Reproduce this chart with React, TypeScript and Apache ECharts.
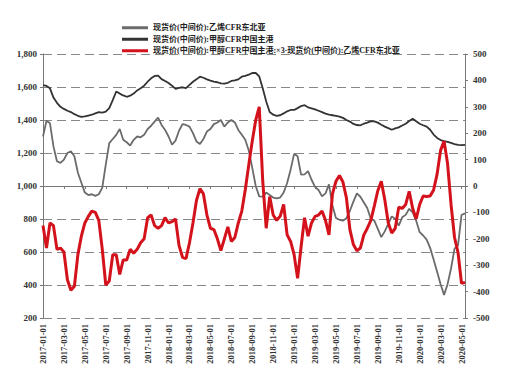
import React, { useEffect, useRef } from "react";
import * as echarts from "echarts";

// Categories: 1st, 11th, 21st of each month, 2017-01-01 .. 2020-05-11
const categories: string[] = [];
for (let y = 2017; y <= 2020; y++) {
  for (let m = 1; m <= 12; m++) {
    for (const d of [1, 11, 21]) {
      if (y === 2020 && (m > 5 || (m === 5 && d > 11))) continue;
      categories.push(`${y}-${String(m).padStart(2, "0")}-${String(d).padStart(2, "0")}`);
    }
  }
}

const seriesNames = [
  "现货价(中间价):乙烯CFR东北亚",
  "现货价(中间价):甲醇CFR中国主港",
  "现货价(中间价):甲醇CFR中国主港:×3-现货价(中间价):乙烯CFR东北亚",
];

// Ethylene CFR NE Asia (left axis)
const ethylene = [
  1300, 1395, 1380, 1240, 1150, 1140, 1160, 1200, 1210, 1180, 1080, 1020,
  960, 945, 950, 940, 950, 990, 1130, 1260, 1285, 1310, 1345, 1280,
  1265, 1245, 1280, 1300, 1295, 1310, 1345, 1365, 1390, 1415, 1370, 1340,
  1300, 1250, 1275, 1335, 1375, 1370, 1360, 1320, 1270, 1255, 1285, 1330,
  1345, 1375, 1385, 1400, 1360, 1385, 1400, 1385, 1340, 1310, 1280, 1215,
  1110, 1000, 937, 935, 960, 945, 930, 925, 930, 960, 1018, 1099,
  1195, 1180, 1069, 1070, 1090, 1038, 995, 976, 937, 955, 1010, 880,
  806, 795, 790, 805, 850, 905, 955, 935, 900, 865, 800, 790,
  740, 690, 725, 770, 816, 800, 760, 810, 825, 862, 840, 790,
  720, 700, 675, 625, 555, 480, 405, 340, 405, 500, 620, 640,
  824, 834,
];

// Methanol CFR China main port (right axis)
const methanol = [
  382, 379, 370, 335, 315, 300, 292, 285, 280, 272, 266, 262,
  264, 267, 270, 275, 280, 278, 282, 295, 325, 358, 350, 343,
  338, 342, 350, 362, 370, 380, 395, 408, 417, 418, 405, 398,
  390, 380, 368, 372, 374, 371, 383, 395, 404, 414, 410, 404,
  399, 395, 393, 389, 388, 391, 398, 400, 404, 414, 417, 422,
  428, 428, 415, 370, 320, 280, 270, 266, 268, 275, 283, 288,
  288, 295, 303, 306, 298, 294, 290, 285, 280, 274, 270, 268,
  266, 263, 258, 250, 244, 235, 231, 230, 236, 240, 246, 245,
  240, 232, 225, 219, 213, 218, 222, 229, 236, 246, 255, 245,
  236, 230, 225, 213, 195, 182, 174, 170, 167, 163, 159, 156,
  155, 156,
];

// Spread: methanol x3 - ethylene (right axis)
const spread = [
  -150, -235, -140, -150, -240, -235, -250, -355, -395, -380, -260, -190,
  -140, -115, -95, -100, -130, -240, -375, -360, -260, -260, -335, -280,
  -280, -240, -255, -240, -215, -200, -120, -110, -150, -160, -150, -120,
  -140, -135, -125, -225, -270, -275, -215, -140, -55, -10, -30, -110,
  -160, -165, -200, -245, -200, -155, -210, -195, -140, -95, -14, 80,
  170, 250, 300, 20, -160, -40, -110, -130, -115, -70, -185, -210,
  -260, -350, -230, -120, -190, -140, -115, -110, -95, -130, -185, -30,
  18, 40, 15, -45, -165, -222, -245, -235, -185, -160, -130, -75,
  -18, 18, -52, -140, -178, -160, -80, -85, -70, -20, -85, -125,
  -70, -38, -40, -38, -15, 45, 135, 170, 85, -70, -195, -252,
  -369, -365,
];

const colors = ["#6b6b6b", "#333333", "#d3121c"];
const labelFont = "'Liberation Serif', 'Noto Sans CJK SC', serif";

export default function App() {
  const ref = useRef<HTMLDivElement>(null);
  useEffect(() => {
    document.body.style.margin = "0";
    const chart = echarts.init(ref.current!, undefined, { renderer: "svg" });
    const axisLabelStyle = {
      fontSize: 9,
      fontFamily: labelFont,
      fontWeight: "bold" as const,
      color: "#333",
    };
    const showTick = (i: number) => i % 6 === 0 && i <= 120;
    chart.setOption({
      animation: false,
      backgroundColor: "#fff",
      color: colors,
      grid: { left: 43, right: 46, top: 54, bottom: 74 },
      legend: {
        orient: "vertical",
        left: 117,
        top: 17,
        icon: "rect",
        itemWidth: 26,
        itemHeight: 3,
        itemGap: 0,
        data: seriesNames,
        textStyle: {
          fontSize: 8,
          lineHeight: 11.5,
          fontFamily: labelFont,
          fontWeight: "bold",
          color: "#222",
        },
      },
      xAxis: {
        type: "category",
        data: categories,
        boundaryGap: false,
        axisLine: { lineStyle: { color: "#777", width: 1 } },
        axisTick: {
          alignWithLabel: true,
          interval: showTick,
          length: 3,
          lineStyle: { color: "#777" },
        },
        axisLabel: {
          ...axisLabelStyle,
          fontSize: 8.5,
          rotate: 90,
          margin: 6,
          interval: showTick,
        },
        splitLine: { show: false },
      },
      yAxis: [
        {
          type: "value",
          min: 200,
          max: 1800,
          interval: 200,
          axisLine: { show: true, lineStyle: { color: "#777" } },
          axisTick: { show: true, length: 3, lineStyle: { color: "#777" } },
          axisLabel: {
            ...axisLabelStyle,
            margin: 6,
            formatter: (v: number) => v.toLocaleString("en-US"),
          },
          splitLine: {
            show: true,
            lineStyle: { color: "#888", type: [9, 5], width: 1 },
          },
        },
        {
          type: "value",
          min: -500,
          max: 500,
          interval: 100,
          position: "right",
          axisLine: { show: true, lineStyle: { color: "#777" } },
          axisTick: { show: true, length: 3, lineStyle: { color: "#777" } },
          axisLabel: { ...axisLabelStyle, margin: 8 },
          splitLine: { show: false },
        },
      ],
      series: [
        {
          name: seriesNames[0],
          type: "line",
          data: ethylene,
          yAxisIndex: 0,
          showSymbol: false,
          lineStyle: { width: 1.8, color: colors[0] },
          z: 2,
        },
        {
          name: seriesNames[1],
          type: "line",
          data: methanol,
          yAxisIndex: 1,
          showSymbol: false,
          lineStyle: { width: 1.8, color: colors[1] },
          z: 3,
        },
        {
          name: seriesNames[2],
          type: "line",
          data: spread,
          yAxisIndex: 1,
          showSymbol: false,
          lineStyle: { width: 3, color: colors[2] },
          z: 4,
        },
      ],
    });
    return () => chart.dispose();
  }, []);
  return <div ref={ref} style={{ width: 511, height: 392 }} />;
}
